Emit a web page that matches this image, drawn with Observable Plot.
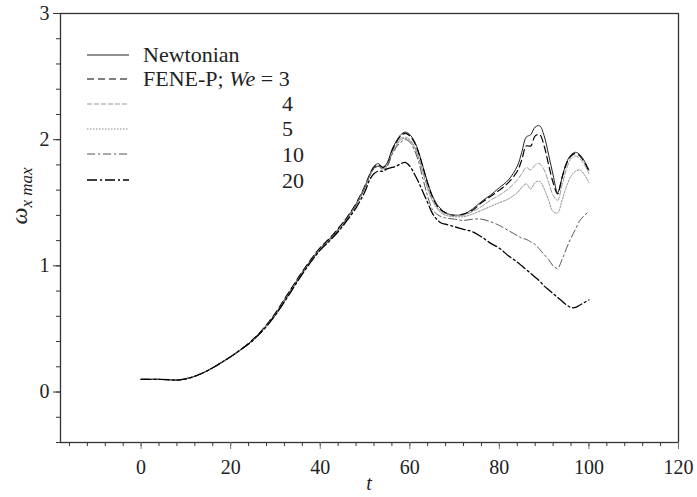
<!DOCTYPE html>
<html>
<head>
<meta charset="utf-8">
<script src="https://cdn.jsdelivr.net/npm/d3@7"></script>
<script src="https://cdn.jsdelivr.net/npm/@observablehq/plot@0.6"></script>
<style>
  html, body { margin: 0; padding: 0; background: #fff; }
</style>
</head>
<body>
<div id="chart"></div>
<script>
// ---- time grid (t) ----
const tGrid = [0,2,4,6,8,10,12,14,16,18,20,22,24,26,28,30,32,34,36,38,40,42,44,46,48,50,
  51,52,53,54,55,56,57,58,59,60,61,62,63,64,65,66,67,68,
  70,72,74,76,78,80,82,84,
  85,86,87,88,89,90,91,92,93,94,95,96,97,98,99,100];

// ---- series values (omega_x max) ----
const newtonian = [0.10,0.10,0.10,0.098,0.095,0.105,0.125,0.155,0.192,0.235,0.28,0.33,0.385,0.45,0.53,0.62,0.73,0.84,0.95,1.05,1.14,1.21,1.29,1.38,1.49,1.63,
  1.72,1.79,1.81,1.78,1.82,1.92,1.99,2.04,2.06,2.04,1.99,1.90,1.78,1.66,1.56,1.49,1.45,1.42,
  1.40,1.41,1.45,1.51,1.56,1.62,1.68,1.79,
  1.90,2.02,2.04,2.10,2.11,2.03,1.88,1.72,1.58,1.70,1.82,1.88,1.90,1.88,1.83,1.76];
const we3 = [0.10,0.10,0.10,0.098,0.095,0.105,0.125,0.155,0.192,0.235,0.28,0.33,0.386,0.452,0.533,0.625,0.736,0.846,0.955,1.055,1.145,1.215,1.295,1.385,1.495,1.635,
  1.72,1.78,1.80,1.78,1.81,1.91,1.98,2.03,2.05,2.03,1.98,1.89,1.77,1.65,1.55,1.48,1.44,1.42,
  1.40,1.41,1.44,1.50,1.55,1.60,1.66,1.75,
  1.84,1.95,1.95,2.03,2.04,1.95,1.80,1.66,1.57,1.70,1.81,1.87,1.89,1.87,1.82,1.75];
const we4 = [0.10,0.10,0.10,0.098,0.095,0.105,0.125,0.155,0.192,0.235,0.28,0.33,0.382,0.447,0.527,0.615,0.725,0.835,0.945,1.045,1.135,1.205,1.285,1.375,1.485,1.625,
  1.71,1.77,1.79,1.77,1.80,1.89,1.96,2.01,2.02,2.00,1.95,1.86,1.74,1.62,1.53,1.47,1.43,1.41,
  1.40,1.40,1.43,1.47,1.52,1.56,1.61,1.68,
  1.73,1.78,1.76,1.80,1.81,1.76,1.66,1.56,1.52,1.64,1.77,1.85,1.87,1.85,1.80,1.73];
const we5 = [0.10,0.10,0.10,0.098,0.095,0.105,0.125,0.155,0.192,0.235,0.28,0.33,0.38,0.445,0.525,0.612,0.722,0.832,0.94,1.04,1.13,1.20,1.28,1.37,1.48,1.62,
  1.71,1.77,1.79,1.77,1.80,1.89,1.95,2.00,2.01,1.99,1.94,1.85,1.73,1.61,1.52,1.46,1.42,1.40,
  1.39,1.39,1.41,1.44,1.47,1.50,1.53,1.58,
  1.62,1.65,1.61,1.66,1.67,1.61,1.52,1.43,1.42,1.52,1.63,1.71,1.75,1.76,1.72,1.66];
const we10 = [0.10,0.10,0.10,0.098,0.095,0.105,0.125,0.155,0.192,0.235,0.28,0.33,0.38,0.443,0.522,0.61,0.72,0.83,0.94,1.04,1.13,1.20,1.28,1.37,1.48,1.62,
  1.71,1.77,1.79,1.76,1.79,1.88,1.94,1.98,2.00,1.98,1.92,1.82,1.68,1.55,1.45,1.41,1.39,1.38,
  1.37,1.36,1.37,1.37,1.35,1.32,1.28,1.24,
  1.22,1.21,1.19,1.17,1.13,1.09,1.05,1.00,0.98,1.05,1.14,1.22,1.29,1.36,1.40,1.43];
const we20 = [0.10,0.10,0.10,0.098,0.095,0.105,0.125,0.155,0.192,0.235,0.28,0.33,0.38,0.445,0.52,0.61,0.715,0.825,0.935,1.035,1.125,1.195,1.27,1.36,1.46,1.59,
  1.68,1.73,1.75,1.75,1.77,1.78,1.79,1.81,1.82,1.79,1.73,1.66,1.58,1.50,1.42,1.37,1.34,1.33,
  1.31,1.29,1.27,1.23,1.18,1.14,1.08,1.03,
  1.00,0.97,0.94,0.91,0.88,0.84,0.81,0.78,0.75,0.72,0.69,0.67,0.67,0.69,0.71,0.73];

// ---- ticks ----
const xMajorTicks = [0,20,40,60,80,100,120];
const xMinorTicks = d3.range(-16, 121, 4);
const yMajorTicks = [0,1,2,3];
const yMinorTicks = d3.range(-0.4, 3.001, 0.2).map(v => +v.toFixed(1));

// ---- legend labels ----
const legendLabels = ["Newtonian", "FENE-P; We = 3", "4", "5", "10", "20"];

const seriesList = [
  {values: newtonian, stroke: "#222", dash: null, width: 1},
  {values: we3, stroke: "#000", dash: "7,4", width: 1.2},
  {values: we4, stroke: "#999", dash: "5,2", width: 1},
  {values: we5, stroke: "#888", dash: "1.5,1.5", width: 1},
  {values: we10, stroke: "#555", dash: "8,3,2,3", width: 1},
  {values: we20, stroke: "#000", dash: "10,3,2,3", width: 1.3}
];

const font = "Liberation Serif";

const lineMarks = seriesList.map(s => Plot.line(
  tGrid.map((t, i) => ({t, v: s.values[i]})),
  {x: "t", y: "v", stroke: s.stroke, strokeWidth: s.width, strokeDasharray: s.dash, curve: "catmull-rom"}
));

const plot = Plot.plot({
  width: 697,
  height: 497,
  marginLeft: 60,
  marginRight: 19,
  marginTop: 13,
  marginBottom: 55,
  style: {fontFamily: font, fontSize: "20px", background: "#fff", color: "#222"},
  x: {domain: [-18, 120]},
  y: {domain: [-0.4, 3]},
  marks: [
    Plot.frame({stroke: "#333", strokeWidth: 1.3}),
    Plot.axisX({ticks: xMinorTicks, tickSize: 4, tickFormat: () => "", stroke: "#333", label: null}),
    Plot.axisX({ticks: xMajorTicks, tickSize: 7, tickPadding: 10, tickFormat: d => String(d), stroke: "#777", label: null, fontSize: 20}),
    Plot.axisY({ticks: yMinorTicks, tickSize: 4, tickFormat: () => "", stroke: "#333", label: null}),
    Plot.axisY({ticks: yMajorTicks, tickSize: 7, tickPadding: 4, tickFormat: d => String(d), stroke: "#333", label: null, fontSize: 20}),
    ...lineMarks
  ]
});

document.getElementById("chart").appendChild(plot);

const svg = d3.select(plot);

// Axis titles
const yl = svg.append("text")
  .attr("transform", "translate(27,196) rotate(-90)")
  .attr("text-anchor", "middle")
  .attr("font-style", "italic")
  .attr("fill", "#222");
yl.append("tspan").attr("font-size", 24).text("ω");
yl.append("tspan").attr("font-size", 17).attr("dy", 5).text("x max");

svg.append("text")
  .attr("x", 369).attr("y", 490)
  .attr("text-anchor", "middle")
  .attr("font-style", "italic")
  .attr("font-size", 20)
  .attr("fill", "#222")
  .text("t");

// Legend
const rowY = [55, 79, 104, 129, 154, 180];
const textY = [62, 86, 111, 136, 162, 188];
const lg = svg.append("g")
  .attr("font-size", 22)
  .attr("text-anchor", "start")
  .attr("fill", "#222");
seriesList.forEach((s, i) => {
  lg.append("line")
    .attr("x1", 87).attr("x2", 129)
    .attr("y1", rowY[i]).attr("y2", rowY[i])
    .attr("stroke", s.stroke)
    .attr("stroke-width", s.width)
    .attr("stroke-dasharray", s.dash);
});
lg.append("text").attr("x", 143).attr("y", textY[0]).attr("text-anchor", "start").text(legendLabels[0]);
const t1 = lg.append("text").attr("x", 143).attr("y", textY[1]).attr("text-anchor", "start");
t1.append("tspan").text("FENE-P; ");
t1.append("tspan").attr("font-style", "italic").text("We");
t1.append("tspan").text(" = 3");
for (let i = 2; i < legendLabels.length; i++) {
  lg.append("text").attr("x", 282).attr("y", textY[i]).attr("text-anchor", "start").text(legendLabels[i]);
}

// force serif font on every text element
svg.selectAll("text, tspan").style("font-family", "'Liberation Serif', serif");
</script>
</body>
</html>
